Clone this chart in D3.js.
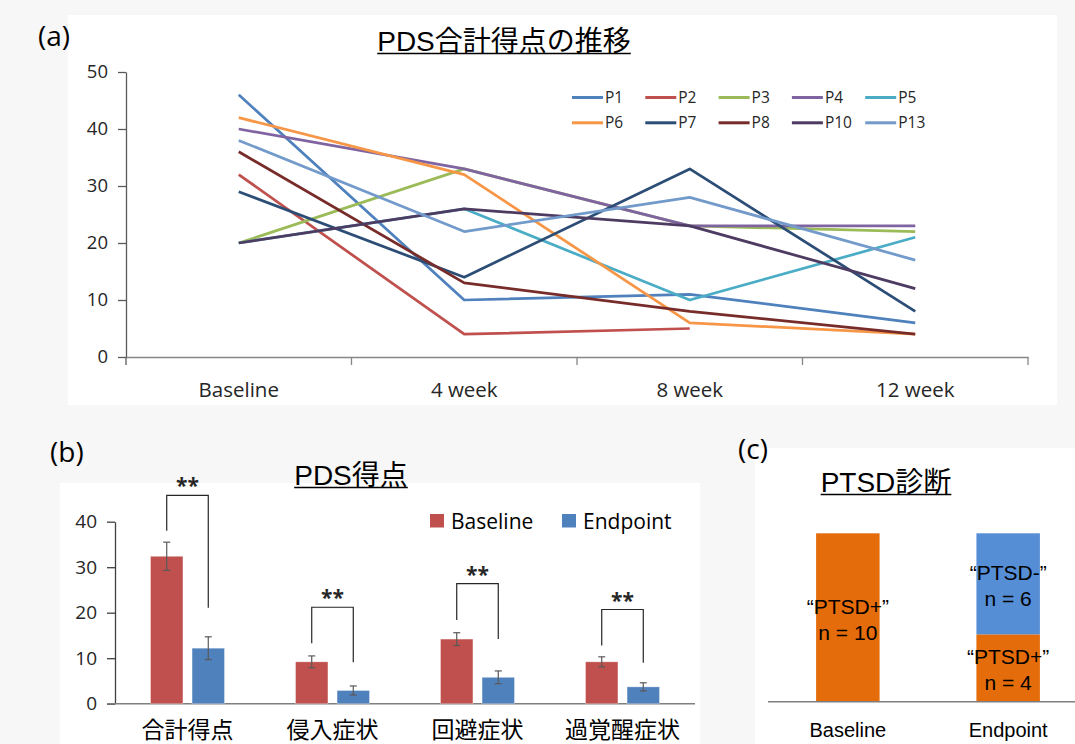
<!DOCTYPE html>
<html>
<head>
<meta charset="utf-8">
<script src="https://cdn.jsdelivr.net/npm/d3@7"></script>
<style>
body { margin: 0; background: #f7f7f7; }
svg { display: block; }
</style>
</head>
<body>
<div id="chart"></div>
<script>
// ---- (a) PDS total score per patient ----
var weeks = ["Baseline", "4 week", "8 week", "12 week"];
var P1 = [46, 10, 11, 6];
var P2 = [32, 4, 5, null];
var P3 = [20, 33, 23, 22];
var P4 = [40, 33, 23, 23];
var P5 = [20, 26, 10, 21];
var P6 = [42, 32, 6, 4];
var P7 = [29, 14, 33, 8];
var P8 = [36, 13, 8, 4];
var P10 = [20, 26, 23, 12];
var P13 = [38, 22, 28, 17];
var patients = ["P1", "P2", "P3", "P4", "P5", "P6", "P7", "P8", "P10", "P13"];
var patientScores = [P1, P2, P3, P4, P5, P6, P7, P8, P10, P13];
var patientColors = ["#4F81BD", "#C0504D", "#9BBB59", "#8064A2", "#4BACC6",
                     "#F79646", "#2C4D75", "#772C2A", "#4D3B62", "#729ACA"];
var yTicksA = [0, 10, 20, 30, 40, 50];

// ---- (b) PDS scores, mean and error ----
var symptoms = ["合計得点", "侵入症状", "回避症状", "過覚醒症状"];
var groups = ["Baseline", "Endpoint"];
var baselineMean = [32.4, 9.2, 14.2, 9.2];
var baselineErr = [3.1, 1.3, 1.4, 1.1];
var endpointMean = [12.2, 2.9, 5.8, 3.7];
var endpointErr = [2.5, 1.0, 1.4, 0.9];
var bracketTop = [45.8, 21.2, 26.4, 20.7];
var bracketLeft = [38.0, 13.3, 18.4, 12.8];
var bracketRight = [21.1, 9.1, 14.2, 9.0];
var yTicksB = [0, 10, 20, 30, 40];

// ---- (c) PTSD diagnosis ----
var diagTimes = ["Baseline", "Endpoint"];
var ptsdPos = [10, 4];
var ptsdNeg = [0, 6];

var W = 1075, H = 744;
var latin = "'Open Sans', sans-serif";
var arial = "'Liberation Sans', 'Noto Sans CJK JP', sans-serif";
var cjk = "'Noto Sans CJK JP', sans-serif";

var svg = d3.select("#chart").append("svg")
    .attr("width", W)
    .attr("height", H);

// panel backgrounds
svg.append("rect").attr("x", 0).attr("y", 0).attr("width", W).attr("height", H).attr("fill", "#f7f7f7");
svg.append("rect").attr("x", 68).attr("y", 15).attr("width", 989).attr("height", 390).attr("fill", "#ffffff");
svg.append("rect").attr("x", 60).attr("y", 483).attr("width", 640).attr("height", 261).attr("fill", "#ffffff");
svg.append("rect").attr("x", 755).attr("y", 448).attr("width", 320).attr("height", 296).attr("fill", "#ffffff");

function title(txt, cx, y) {
    var t = svg.append("text")
        .attr("x", cx).attr("y", y)
        .attr("text-anchor", "middle")
        .style("font-family", arial)
        .style("font-size", "28px")
        .attr("fill", "#000")
        .text(txt);
    var w = t.node().getComputedTextLength();
    svg.append("line")
        .attr("x1", cx - w / 2).attr("x2", cx + w / 2)
        .attr("y1", y + 2.5).attr("y2", y + 2.5)
        .attr("stroke", "#000").attr("stroke-width", 1.4);
}

function panelLabel(txt, x, y) {
    svg.append("text")
        .attr("x", x).attr("y", y)
        .style("font-family", latin)
        .style("font-size", "28px")
        .attr("fill", "#000")
        .text(txt);
}

// ================= (a) =================
panelLabel("(a)", 38, 46);
title("PDS合計得点の推移", 504, 51);

var x = d3.scaleBand().domain(weeks).range([126, 1028]);
var y = d3.scaleLinear().domain([0, 50]).range([357, 72]);

var yAxisA = svg.append("g")
    .attr("transform", "translate(126,0)")
    .call(d3.axisLeft(y).tickValues(yTicksA).tickSize(8).tickSizeOuter(0).tickPadding(10));
yAxisA.select(".domain").attr("stroke", "#595959").attr("stroke-width", 1.3);
yAxisA.selectAll(".tick line").attr("stroke", "#595959").attr("stroke-width", 1.3);
yAxisA.selectAll("text").style("font-family", latin).style("font-size", "18.5px").attr("fill", "#262626");

var xAxisA = svg.append("g")
    .attr("transform", "translate(0,357)")
    .call(d3.axisBottom(x).tickSize(0).tickPadding(25));
xAxisA.select(".domain").attr("stroke", "#868686").attr("stroke-width", 1.6);
xAxisA.selectAll("text").style("font-family", latin).style("font-size", "20.5px").attr("fill", "#262626");

// category boundary ticks
svg.append("g").selectAll("line")
    .data(weeks)
    .join("line")
    .attr("x1", function (d) { return x(d) + x.step(); })
    .attr("x2", function (d) { return x(d) + x.step(); })
    .attr("y1", 357).attr("y2", 365)
    .attr("stroke", "#868686").attr("stroke-width", 1.3);
svg.append("line").attr("x1", 126).attr("x2", 126).attr("y1", 357).attr("y2", 365)
    .attr("stroke", "#595959").attr("stroke-width", 1.3);

var line = d3.line()
    .defined(function (d) { return d != null; })
    .x(function (d, i) { return x(weeks[i]) + x.bandwidth() / 2; })
    .y(function (d) { return y(d); });

svg.append("g").selectAll("path")
    .data(patientScores)
    .join("path")
    .attr("fill", "none")
    .attr("stroke", function (d, i) { return patientColors[i]; })
    .attr("stroke-width", 2.75)
    .attr("stroke-linejoin", "round")
    .attr("d", line);

// legend
var legA = svg.append("g").selectAll("g")
    .data(patients)
    .join("g")
    .attr("transform", function (d, i) {
        return "translate(" + (572 + (i % 5) * 73.3) + "," + (97.5 + Math.floor(i / 5) * 25.3) + ")";
    });
legA.append("line")
    .attr("x1", 0).attr("x2", 31)
    .attr("stroke", function (d, i) { return patientColors[i]; })
    .attr("stroke-width", 3);
legA.append("text")
    .attr("x", 33).attr("dy", "0.36em")
    .style("font-family", latin).style("font-size", "15.5px")
    .attr("fill", "#262626")
    .text(function (d) { return d; });

// ================= (b) =================
panelLabel("(b)", 50, 462);
title("PDS得点", 351, 485);

var xb = d3.scaleBand().domain(symptoms).range([115, 695]).paddingInner(0.49).paddingOuter(0.245);
var xs = d3.scaleBand().domain(groups).range([0, xb.bandwidth()]).paddingInner(0.22);
var yb = d3.scaleLinear().domain([0, 40]).range([703.7, 521.7]);
var colB = { Baseline: "#C0504D", Endpoint: "#4F81BD" };

var yAxisB = svg.append("g")
    .attr("transform", "translate(115,0)")
    .call(d3.axisLeft(yb).tickValues(yTicksB).tickSize(8).tickSizeOuter(0).tickPadding(10));
yAxisB.select(".domain").attr("stroke", "#404040").attr("stroke-width", 1.3);
yAxisB.selectAll(".tick line").attr("stroke", "#404040").attr("stroke-width", 1.3);
yAxisB.selectAll("text").style("font-family", latin).style("font-size", "19px").attr("fill", "#262626");

svg.append("line")
    .attr("x1", 107).attr("x2", 695)
    .attr("y1", yb(0)).attr("y2", yb(0))
    .attr("stroke", "#7f7f7f").attr("stroke-width", 1.5);

var barsB = [];
symptoms.forEach(function (s, i) {
    barsB.push({ cat: s, g: "Baseline", v: baselineMean[i], e: baselineErr[i] });
    barsB.push({ cat: s, g: "Endpoint", v: endpointMean[i], e: endpointErr[i] });
});

svg.append("g").selectAll("rect")
    .data(barsB)
    .join("rect")
    .attr("x", function (d) { return xb(d.cat) + xs(d.g); })
    .attr("y", function (d) { return yb(d.v); })
    .attr("width", xs.bandwidth())
    .attr("height", function (d) { return yb(0) - yb(d.v); })
    .attr("fill", function (d) { return colB[d.g]; })
    .attr("stroke", "#ffffff").attr("stroke-opacity", 0.4).attr("stroke-width", 0.8);

var err = svg.append("g").selectAll("g")
    .data(barsB)
    .join("g")
    .attr("stroke", "#595959").attr("stroke-width", 1.2);
function cx(d) { return xb(d.cat) + xs(d.g) + xs.bandwidth() / 2; }
err.append("line")
    .attr("x1", cx).attr("x2", cx)
    .attr("y1", function (d) { return yb(d.v + d.e); })
    .attr("y2", function (d) { return yb(d.v - d.e); });
err.append("line")
    .attr("x1", function (d) { return cx(d) - 3.5; }).attr("x2", function (d) { return cx(d) + 3.5; })
    .attr("y1", function (d) { return yb(d.v + d.e); }).attr("y2", function (d) { return yb(d.v + d.e); });
err.append("line")
    .attr("x1", function (d) { return cx(d) - 3.5; }).attr("x2", function (d) { return cx(d) + 3.5; })
    .attr("y1", function (d) { return yb(d.v - d.e); }).attr("y2", function (d) { return yb(d.v - d.e); });

// significance brackets
var br = svg.append("g").selectAll("g")
    .data(symptoms)
    .join("g");
br.append("path")
    .attr("fill", "none")
    .attr("stroke", "#262626").attr("stroke-width", 1.2)
    .attr("d", function (s, i) {
        var xl = xb(s) + xs("Baseline") + xs.bandwidth() / 2;
        var xr = xb(s) + xs("Endpoint") + xs.bandwidth() / 2;
        return "M" + xl + "," + yb(bracketLeft[i]) + "V" + yb(bracketTop[i]) +
               "H" + xr + "V" + yb(bracketRight[i]);
    });
br.append("text")
    .attr("x", function (s) { return xb(s) + xb.bandwidth() / 2; })
    .attr("y", function (s, i) { return yb(bracketTop[i]) - 2; })
    .attr("text-anchor", "middle")
    .style("font-family", latin).style("font-size", "21px").style("font-weight", "bold")
    .attr("fill", "#262626")
    .text("**");

svg.append("g").selectAll("text")
    .data(symptoms)
    .join("text")
    .attr("x", function (s) { return xb(s) + xb.bandwidth() / 2; })
    .attr("y", 730)
    .attr("dy", "0.35em")
    .attr("text-anchor", "middle")
    .style("font-family", cjk).style("font-size", "23px")
    .attr("fill", "#000")
    .text(function (s) { return s; });

// legend (b)
var legB = svg.append("g").selectAll("g")
    .data(groups)
    .join("g")
    .attr("transform", function (d, i) { return "translate(" + (430 + i * 132) + ",521)"; });
legB.append("rect")
    .attr("x", 0).attr("y", -7).attr("width", 14).attr("height", 13.5)
    .attr("fill", function (d) { return colB[d]; });
legB.append("text")
    .attr("x", 21).attr("dy", "0.36em")
    .style("font-family", latin).style("font-size", "21px")
    .attr("fill", "#000")
    .text(function (d) { return d; });

// ================= (c) =================
panelLabel("(c)", 738, 459);
title("PTSD診断", 886, 492);

var xc = d3.scaleBand().domain(diagTimes).range([768, 1088]).paddingInner(0.604).paddingOuter(0.3);
var yc = d3.scaleLinear().domain([0, 10]).range([701.7, 533.3]);

var diagRows = diagTimes.map(function (t, i) { return { time: t, pos: ptsdPos[i], neg: ptsdNeg[i] }; });
var stacked = d3.stack().keys(["pos", "neg"])(diagRows);
var colC = { pos: "#E46C0A", neg: "#558ED5" };
var labelC = { pos: "“PTSD+”", neg: "“PTSD-”" };

var layer = svg.append("g").selectAll("g")
    .data(stacked)
    .join("g")
    .attr("fill", function (d) { return colC[d.key]; });
layer.selectAll("rect")
    .data(function (d) { return d; })
    .join("rect")
    .attr("x", function (d) { return xc(d.data.time); })
    .attr("y", function (d) { return yc(d[1]); })
    .attr("width", xc.bandwidth())
    .attr("height", function (d) { return yc(d[0]) - yc(d[1]); });

var segs = [];
stacked.forEach(function (s) {
    s.forEach(function (d) {
        if (d[1] - d[0] > 0) segs.push({ key: s.key, time: d.data.time, lo: d[0], hi: d[1] });
    });
});
var segText = svg.append("g").selectAll("text")
    .data(segs)
    .join("text")
    .attr("text-anchor", "middle")
    .style("font-family", arial).style("font-size", "21px")
    .attr("fill", "#000");
segText.append("tspan")
    .attr("x", function (d) { return xc(d.time) + xc.bandwidth() / 2; })
    .attr("y", function (d) { return (yc(d.lo) + yc(d.hi)) / 2 - 11; })
    .attr("dy", "0.35em")
    .text(function (d) { return labelC[d.key]; });
segText.append("tspan")
    .attr("x", function (d) { return xc(d.time) + xc.bandwidth() / 2; })
    .attr("y", function (d) { return (yc(d.lo) + yc(d.hi)) / 2 + 15; })
    .attr("dy", "0.35em")
    .text(function (d) { return "n = " + (d.hi - d.lo); });

svg.append("line")
    .attr("x1", 768).attr("x2", W)
    .attr("y1", yc(0)).attr("y2", yc(0))
    .attr("stroke", "#7f7f7f").attr("stroke-width", 1.5);

svg.append("g").selectAll("text")
    .data(diagTimes)
    .join("text")
    .attr("x", function (d) { return xc(d) + xc.bandwidth() / 2; })
    .attr("y", 730)
    .attr("dy", "0.35em")
    .attr("text-anchor", "middle")
    .style("font-family", arial).style("font-size", "20px")
    .attr("fill", "#000")
    .text(function (d) { return d; });
</script>
</body>
</html>
